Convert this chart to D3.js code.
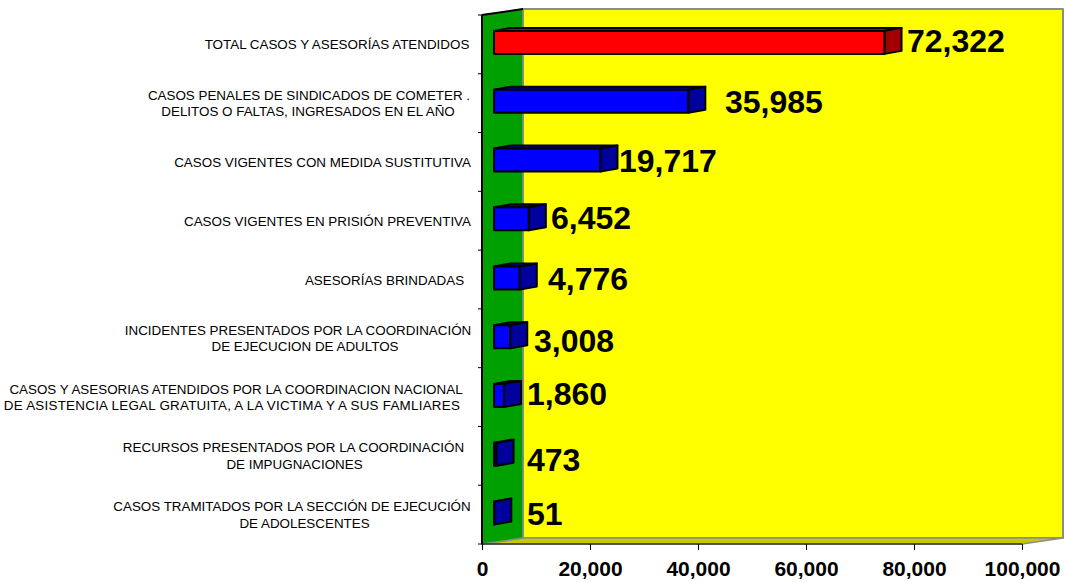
<!DOCTYPE html>
<html><head><meta charset="utf-8">
<script src="https://cdnjs.cloudflare.com/ajax/libs/d3/7.8.5/d3.min.js"></script>
<style>html,body{margin:0;padding:0;background:#fff}svg{display:block}text{font-family:"Liberation Sans",Arial,sans-serif}</style>
</head><body><svg id="c" width="1065" height="583"></svg>
<script>
const categories=[
 ["TOTAL CASOS Y ASESORÍAS ATENDIDOS"],
 ["CASOS PENALES DE SINDICADOS DE COMETER .","DELITOS O FALTAS, INGRESADOS EN EL AÑO"],
 ["CASOS VIGENTES CON MEDIDA SUSTITUTIVA"],
 ["CASOS VIGENTES EN PRISIÓN PREVENTIVA"],
 ["ASESORÍAS BRINDADAS"],
 ["INCIDENTES PRESENTADOS POR LA COORDINACIÓN","DE EJECUCION DE ADULTOS"],
 ["CASOS Y ASESORIAS ATENDIDOS POR LA COORDINACION NACIONAL","DE ASISTENCIA LEGAL GRATUITA, A LA VICTIMA Y A SUS FAMLIARES"],
 ["RECURSOS PRESENTADOS POR LA COORDINACIÓN","DE IMPUGNACIONES"],
 ["CASOS TRAMITADOS POR LA SECCIÓN DE EJECUCIÓN","DE ADOLESCENTES"]];
const values=[72322,35985,19717,6452,4776,3008,1860,473,51];
const tickValues=[0,20000,40000,60000,80000,100000];
const labelX=[907,725,619,551,548,534,527,527,527];
const labelDy=[0,2,2,0,2,6,0,7,2];
const catCenter=[[337],[309,308],[322.5],[327.5],[384.5],[298,305],[236,232],[293.5,294.5],[292,304.5]];

const svg=d3.select("#c");
const L=482,R=1022,T=15,B=544,DX=41,DY=-6;
const x=d3.scaleLinear().domain([0,100000]).range([L,R]);
const y=d3.scaleBand().domain(d3.range(values.length)).range([T,B]).padding(0);
const poly=(p,f,s,w)=>svg.append("polygon").attr("points",p.map(d=>d.join(",")).join(" ")).attr("fill",f).attr("stroke",s).attr("stroke-width",w).attr("stroke-linejoin","round");

// back wall, floor, side wall
poly([[L+DX,T+DY],[R+DX,T+DY],[R+DX,B+DY],[L+DX,B+DY]],"#ffff00","#8c8c8c",2);
poly([[L,B],[L+DX,B+DY],[R+DX,B+DY],[R,B]],"#c8c800","#8c8c8c",1.5);
poly([[L,T],[L+DX,T+DY],[L+DX,B+DY],[L,B]],"#00a000","#8c8c8c",1.5);
svg.append("line").attr("x1",L).attr("y1",T).attr("x2",L+DX).attr("y2",T+DY).attr("stroke","#000").attr("stroke-width",2);
svg.append("line").attr("x1",L).attr("y1",T).attr("x2",L).attr("y2",B).attr("stroke","#000").attr("stroke-width",2);
svg.append("line").attr("x1",L).attr("y1",B).attr("x2",R).attr("y2",B).attr("stroke","#000").attr("stroke-width",1);

// axes
const ax=svg.append("g").attr("transform",`translate(0,${B})`).call(d3.axisBottom(x).tickValues(tickValues).tickFormat(d3.format(",")).tickSize(6).tickPadding(11));
ax.select(".domain").remove();
ax.selectAll("text").attr("font-size",21).attr("font-weight","bold").attr("fill","#000").attr("font-family",'"Liberation Sans",Arial,sans-serif');
ax.selectAll("line").attr("stroke","#000");
const yt=d3.range(values.length+1).map(i=>T+i*y.step());
svg.selectAll(".yt").data(yt).enter().append("line").attr("x1",L-4).attr("x2",L).attr("y1",d=>d).attr("y2",d=>d).attr("stroke","#000");

// bars
const X0=12,BD=17,BDy=-3,BH=23;
const colors=i=>i==0?["#ff0000","#a00000","#c00000"]:["#0000ff","#00009c","#0000c0"];
values.forEach((v,i)=>{
  const xl=L+X0, xr=xl+(x(v)-x(0)), yt=y(i)+y.step()/2-13.5+(i>3?.4:0), yb=yt+BH;
  const [f,s,t]=colors(i);
  poly([[xl,yt],[xl+BD,yt+BDy],[xr+BD,yt+BDy],[xr,yt]],t,"#000",2);
  poly([[xl,yt],[xr,yt],[xr,yb],[xl,yb]],f,"#000",2);
  poly([[xr,yt],[xr+BD,yt+BDy],[xr+BD,yb+BDy],[xr,yb]],s,"#000",2);
});

// value labels
svg.selectAll(".val").data(values).enter().append("text").attr("class","val")
 .attr("x",(d,i)=>labelX[i]).attr("y",(d,i)=>y(i)+y.step()/2+8+labelDy[i])
 .attr("font-size",32).attr("font-weight","bold").attr("fill","#000").text(d3.format(","));

// category labels
categories.forEach((c,i)=>{
  const cy=y(i)+y.step()/2-1;
  const two=c.length==2;
  const t=svg.append("text").attr("font-size",13.4).attr("fill","#000").attr("text-anchor","middle");
  c.forEach((ln,j)=>{
    const ts=t.append("tspan").attr("x",catCenter[i][j]).attr("y",cy+(two?(j==0?-2.5:14):6)).text(ln);
    if(i==6&&j==1) ts.attr("letter-spacing",0.25);
  });
});
</script></body></html>
